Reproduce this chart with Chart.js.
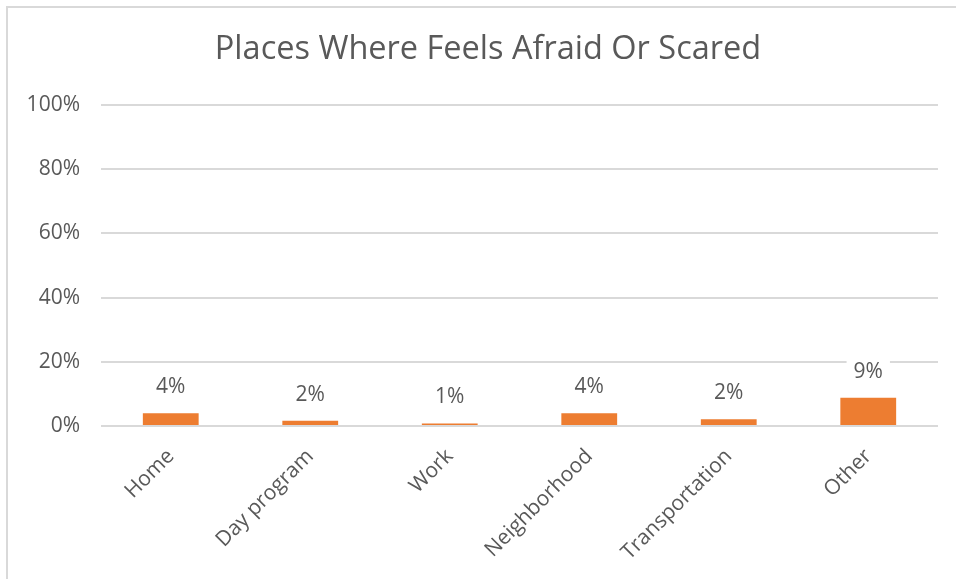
<!DOCTYPE html>
<html lang="en">
<head>
    <meta charset="UTF-8">
    <title>Places Where Feels Afraid Or Scared</title>
    <script src="https://cdn.jsdelivr.net/npm/chart.js"></script>
    <style>
        html, body { margin: 0; padding: 0; background: #fff; overflow: hidden; }
        #frame { position: absolute; left: 6px; top: 6px; width: 1000px; height: 1000px; border: 2px solid #d9d9d9; box-sizing: border-box; }
        #wrap { position: absolute; left: 0; top: 0; width: 956px; height: 579px; }
    </style>
</head>
<body>
    <div id="frame"></div>
    <div id="wrap"><canvas id="placesChart"></canvas></div>
    <script>
        // chart data
        const chartTitle = 'Places Where Feels Afraid Or Scared';
        const categories = ['Home', 'Day program', 'Work', 'Neighborhood', 'Transportation', 'Other'];
        const shares = [0.040, 0.016, 0.008, 0.040, 0.021, 0.088];
        const yTicks = [0, 0.2, 0.4, 0.6, 0.8, 1.0];

        const textColor = '#595959';
        const fontFamily = '"Open Sans", sans-serif';

        // draws the percentage above each bar, with a white box behind it
        const valueLabels = {
            id: 'valueLabels',
            afterDatasetsDraw(chart) {
                const ctx = chart.ctx;
                const meta = chart.getDatasetMeta(0);
                ctx.save();
                ctx.font = '21px ' + fontFamily;
                ctx.textAlign = 'center';
                ctx.textBaseline = 'middle';
                meta.data.forEach((bar, i) => {
                    const txt = Math.round(shares[i] * 100) + '%';
                    const y = bar.y - 26;
                    const w = ctx.measureText(txt).width + 14;
                    ctx.fillStyle = '#ffffff';
                    ctx.fillRect(bar.x - w / 2, y - 12, w, 24);
                    ctx.fillStyle = textColor;
                    ctx.fillText(txt, bar.x, y);
                });
                ctx.restore();
            }
        };

        // title centred on the outer frame rather than the canvas
        const frameTitle = {
            id: 'frameTitle',
            afterDraw(chart) {
                const ctx = chart.ctx;
                ctx.save();
                ctx.font = '32.5px ' + fontFamily;
                ctx.fillStyle = textColor;
                ctx.textAlign = 'center';
                ctx.textBaseline = 'middle';
                ctx.fillText(chartTitle, 488, 50);
                ctx.restore();
            }
        };

        const ctx = document.getElementById('placesChart').getContext('2d');
        new Chart(ctx, {
            type: 'bar',
            data: {
                labels: categories,
                datasets: [{
                    data: shares,
                    backgroundColor: '#ED7D31',
                    categoryPercentage: 1,
                    barPercentage: 0.4
                }]
            },
            options: {
                responsive: true,
                maintainAspectRatio: false,
                animation: false,
                layout: { padding: { left: 0, right: 18, top: 105, bottom: 0 } },
                plugins: {
                    legend: { display: false },
                    tooltip: { enabled: false },
                    title: { display: false }
                },
                scales: {
                    x: {
                        grid: { display: false },
                        border: { display: false },
                        ticks: {
                            color: textColor,
                            font: { family: fontFamily, size: 21 },
                            maxRotation: 45,
                            minRotation: 45,
                            padding: 10
                        },
                        afterFit(scale) { scale.height = 153; }
                    },
                    y: {
                        min: 0,
                        max: 1,
                        afterBuildTicks(scale) { scale.ticks = yTicks.map(v => ({ value: v })); },
                        grid: { color: '#d9d9d9', lineWidth: 2, drawTicks: false },
                        border: { display: false },
                        ticks: {
                            color: textColor,
                            font: { family: fontFamily, size: 21 },
                            padding: 21,
                            callback: v => Math.round(v * 100) + '%'
                        },
                        afterFit(scale) { scale.width = 101; }
                    }
                }
            },
            plugins: [valueLabels, frameTitle]
        });
    </script>
</body>
</html>
